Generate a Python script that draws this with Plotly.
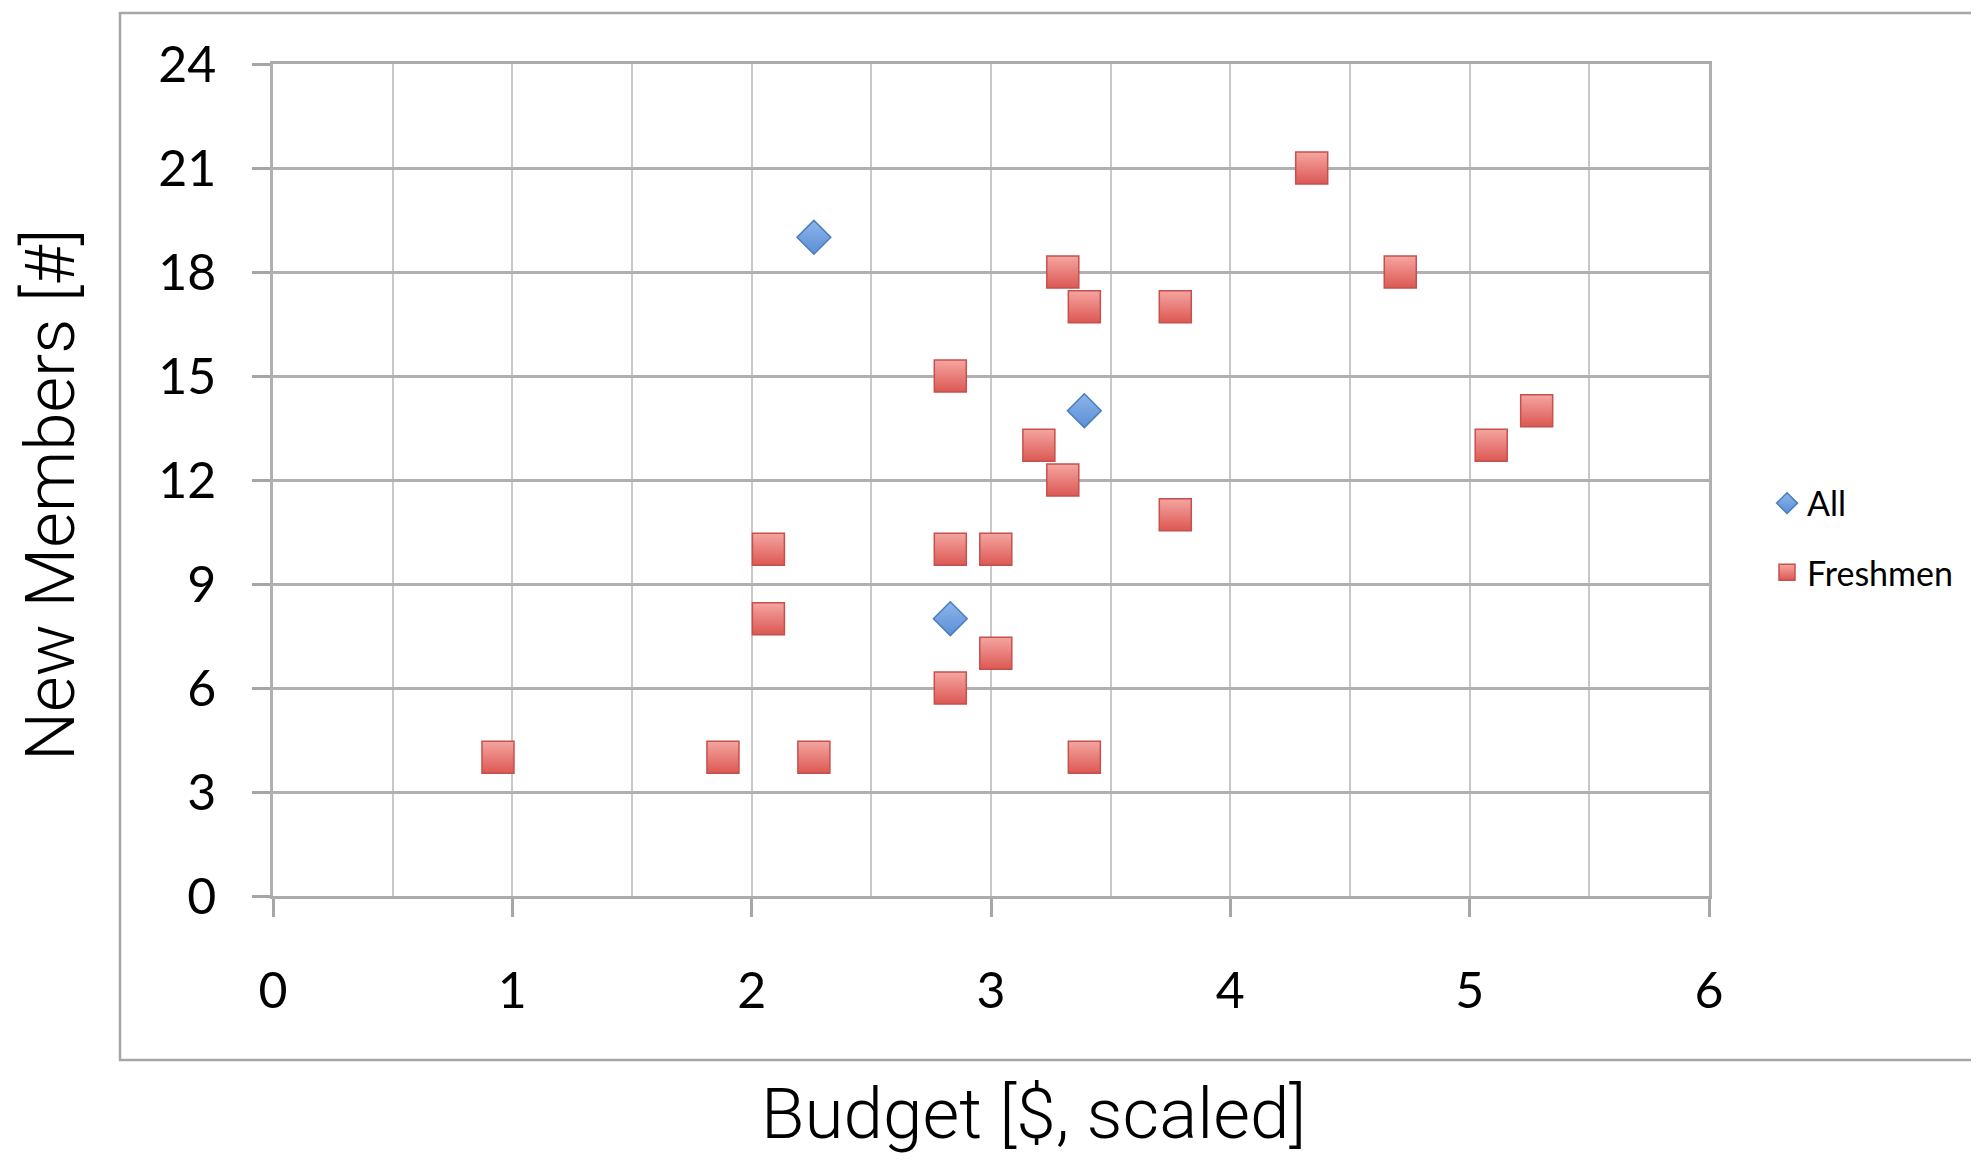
import plotly.graph_objects as go

# Data
all_budget = [2.26, 3.39, 2.83]
all_members = [19, 14, 8]

fresh_budget = [0.94, 1.88, 2.26, 3.39, 2.07, 2.07, 2.83, 2.83, 2.83, 3.02,
                3.02, 3.20, 3.30, 3.30, 3.39, 3.77, 3.77, 4.34, 4.71, 5.09, 5.28]
fresh_members = [4, 4, 4, 4, 10, 8, 15, 10, 6, 10,
                 7, 13, 12, 18, 17, 17, 11, 21, 18, 13, 14]

x_ticks = [0, 1, 2, 3, 4, 5, 6]
y_ticks = [0, 3, 6, 9, 12, 15, 18, 21, 24]

W, H = 1979, 1162
OFF = 8  # default page margin of the HTML body
L, R, T, B = 273 - OFF, 1709 - OFF, 64 - OFF, 896 - OFF
pw, ph = R - L, B - T

def px_x(p):
    return (p - OFF - L) / pw

def px_y(p):
    return (B - (p - OFF)) / ph

fig = go.Figure()

fig.add_trace(go.Scatter(
    x=all_budget, y=all_members, mode="markers", name="All",
    legendgroup="a",
    marker=dict(symbol="diamond", size=26, color="#8DB5EA",
                gradient=dict(type="vertical", color="#5B8FD6"),
                line=dict(color="#4A7EBB", width=1.5)),
))
fig.add_trace(go.Scatter(
    x=fresh_budget, y=fresh_members, mode="markers", name="Freshmen",
    legendgroup="b",
    marker=dict(symbol="square", size=32, color="#F5A5A1",
                gradient=dict(type="vertical", color="#DC5853"),
                line=dict(color="#C4514D", width=1.5)),
))

tick_font = dict(family="Lato, 'Open Sans', sans-serif", size=50, color="#000000")
ytitle_font = dict(family="Roboto, 'Liberation Sans', sans-serif", size=69, color="#000000", weight=300)
xtitle_font = dict(family="Roboto, 'Liberation Sans', sans-serif", size=71, color="#000000", weight=300)

fig.update_layout(
    width=W, height=H,
    margin=dict(l=L, r=W - R, t=T, b=H - B),
    paper_bgcolor="white", plot_bgcolor="white",
    showlegend=True,
    legend=dict(x=px_x(1767), y=px_y(538), xanchor="left", yanchor="middle",
                font=dict(family="Lato, 'Open Sans', sans-serif", size=34, color="#000000"),
                traceorder="grouped", tracegroupgap=22, bgcolor="rgba(0,0,0,0)"),
    xaxis=dict(range=[0, 6], tickmode="array", tickvals=x_ticks,
               ticktext=[str(v) for v in x_ticks],
               showgrid=True, gridcolor="#C8C8C8", gridwidth=2,
               minor=dict(dtick=0.5, showgrid=True, gridcolor="#C8C8C8", gridwidth=2),
               ticks="outside", ticklen=18, tickwidth=2.5, tickcolor="#A6A6A6",
               showline=True, linecolor="#ABABAB", linewidth=2.5, mirror=True,
               zeroline=False, tickfont=tick_font, ticklabelstandoff=31),
    yaxis=dict(range=[0, 24], tickmode="array", tickvals=y_ticks,
               ticktext=[str(v) for v in y_ticks],
               showgrid=True, gridcolor="#B0B0B0", gridwidth=2.5,
               ticks="outside", ticklen=18, tickwidth=2.5, tickcolor="#A6A6A6",
               showline=True, linecolor="#B0B0B0", linewidth=2.5, mirror=True,
               zeroline=False, tickfont=tick_font, ticklabelstandoff=26),
    shapes=[dict(type="rect", xref="paper", yref="paper",
                 x0=px_x(120), x1=px_x(W + 20), y0=px_y(1060), y1=px_y(13),
                 line=dict(color="#A6A6A6", width=2.5), fillcolor="rgba(0,0,0,0)",
                 layer="below")],
    annotations=[
        dict(text="New Members [#]", xref="paper", yref="paper",
             x=px_x(50), y=px_y(495), textangle=-90, showarrow=False,
             xanchor="center", yanchor="middle", font=ytitle_font),
        dict(text="Budget [$, scaled]", xref="paper", yref="paper",
             x=px_x(1033), y=px_y(1113), showarrow=False,
             xanchor="center", yanchor="middle", font=xtitle_font),
    ],
)

fig.write_html("out.html")
